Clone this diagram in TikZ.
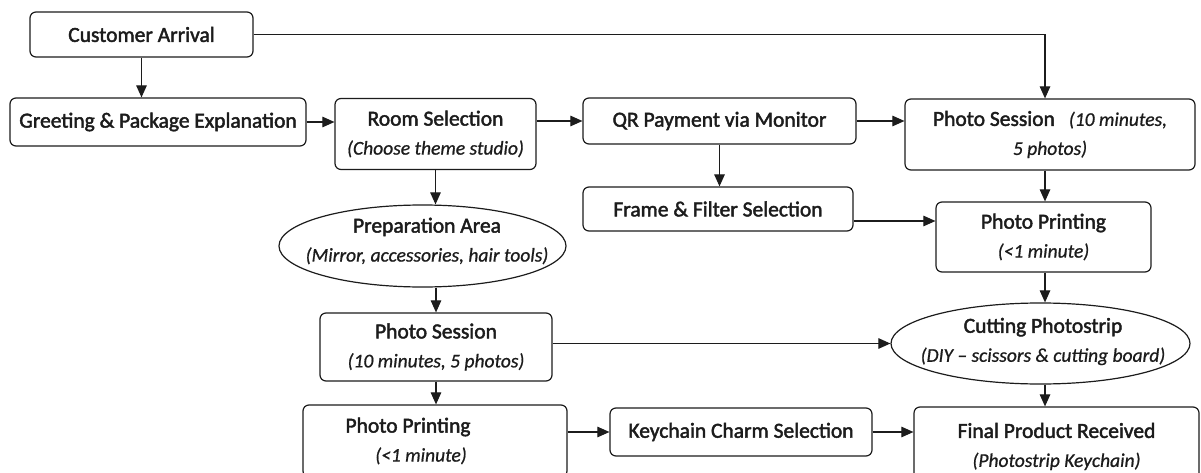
\documentclass[tikz,border=0pt]{standalone}
\usepackage{fontspec}
\usetikzlibrary{arrows.meta,shapes.geometric}
\newfontfamily\titlefamily{Carlito}[FakeBold=2.0]
\newfontfamily\notefamily{Carlito}[FakeBold=0.8]
\newcommand\ttl{\titlefamily\fontsize{21.5}{29}\selectfont}
\newcommand\subt{\notefamily\itshape\fontsize{19.5}{29}\selectfont}
\definecolor{ink}{RGB}{28,28,28}
\begin{document}
\begin{tikzpicture}[x=1pt,y=-1pt,
  box/.style={draw=ink, line width=1.2pt, rounded corners=6pt, inner sep=0pt,
              align=center, font=\ttl, text=ink},
  oval/.style={ellipse, draw=ink, line width=1.2pt, inner sep=0pt},
  lbl/.style={align=center, font=\ttl, text=ink, inner sep=0pt},
  flow/.style={draw=ink, line width=1.1pt, -{Triangle[length=12pt,width=10.5pt]}}]
\useasboundingbox[fill=white] (0,0) rectangle (1201,473);

% process steps
\node[box, minimum width=223pt, minimum height=45pt] (arrival) at (141.5,34.5) {Customer Arrival};
\node[box, minimum width=296pt, minimum height=48pt] (greet) at (158,122) {Greeting \& Package Explanation};
\node[box, minimum width=201pt, minimum height=71pt] (room) at (435.5,134) {Room Selection\\{\subt (Choose theme studio)}};
\node[box, minimum width=273pt, minimum height=46pt] (qr) at (719.5,121) {QR Payment via Monitor};
\node[box, minimum width=290pt, minimum height=71pt] (sessR) at (1050,134.5) {Photo Session\hspace{14pt}{\subt (10 minutes,}\\{\subt 5 photos)}};
\node[box, minimum width=270pt, minimum height=44pt] (frame) at (718,209) {Frame \& Filter Selection};
\node[box, minimum width=215pt, minimum height=70pt] (printR) at (1043.5,237) {Photo Printing\\{\subt (<1 minute)}};
\node[oval, minimum width=287pt, minimum height=82pt] (prep) at (422.5,246) {};
\node[lbl] (prepT) at (427,241) {Preparation Area\\{\subt (Mirror, accessories, hair tools)}};
\node[box, minimum width=232pt, minimum height=68pt] (sessL) at (436,347) {Photo Session\\{\subt (10 minutes, 5 photos)}};
\node[oval, minimum width=299pt, minimum height=81pt] (cut) at (1040.5,343.5) {};
\node[lbl] (cutT) at (1043,341.5) {Cutting Photostrip\\{\subt (DIY – scissors \& cutting board)}};
\node[box, minimum width=264pt, minimum height=72pt] (printL) at (435,441) {Photo Printing\kern54pt\\{\subt (<1 minute)\kern28pt}};
\node[box, minimum width=262pt, minimum height=48pt] (key) at (741,432) {Keychain Charm Selection};
\node[box, minimum width=285pt, minimum height=79pt] (final) at (1056.5,446.5) {Final Product Received\\{\subt (Photostrip Keychain)}};

% connectors
\coordinate (colR) at (1045,0);
\draw[flow] (arrival.south) -- (greet.north -| arrival.south);
\draw[flow] (greet.east) -- (greet.east -| room.west);
\draw[flow] (qr.west -| room.east) -- (qr.west);
\draw[flow] (qr.east) -- (qr.east -| sessR.west);
\draw[flow] (arrival.east) -| (colR |- sessR.north);
\draw[flow] (qr.south) -- (qr.south |- frame.north);
\draw[flow] ([yshift=-12pt]frame.east) -- ([yshift=-12pt]frame.east -| printR.west);
\draw[flow] (colR |- sessR.south) -- (colR |- printR.north);
\draw[flow] (room.south) -- (room.south |- prep.north);
\draw[flow] (sessL.north |- prep.south) -- (sessL.north);
\draw[flow] (sessL.south) -- (printL.north -| sessL.south);
\draw[flow] (cut.west -| sessL.east) -- (cut.west);
\draw[flow] (colR |- printR.south) -- (colR |- cut.north);
\draw[flow] (colR |- cut.south) -- (colR |- final.north);
\draw[flow] (key.west -| printL.east) -- (key.west);
\draw[flow] (key.east) -- (key.east -| final.west);
\end{tikzpicture}
\end{document}
